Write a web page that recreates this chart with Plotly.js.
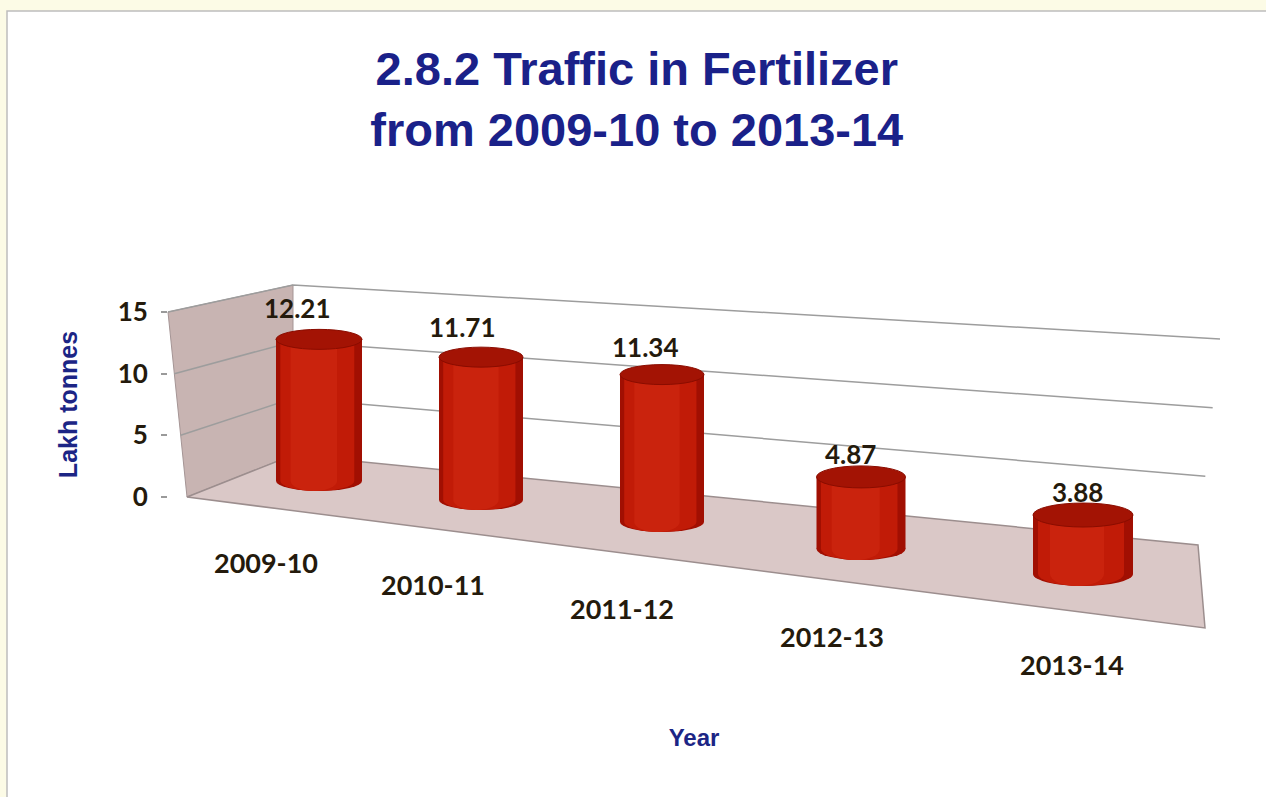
<!DOCTYPE html>
<html>
<head>
<meta charset="utf-8">
<script src="https://cdn.plot.ly/plotly-3.0.1.min.js"></script>
<style>html,body{margin:0;padding:0;background:#fcfbe6;}#chart{width:1266px;height:797px;}</style>
</head>
<body>
<div id="chart"></div>
<script>
// ---------- data ----------
const categories = ['2009-10', '2010-11', '2011-12', '2012-13', '2013-14'];
const values = [12.21, 11.71, 11.34, 4.87, 3.88];
const yTicks = [0, 5, 10, 15];
const yMax = 15;
const titleText = '2.8.2 Traffic in Fertilizer<br>from 2009-10 to 2013-14';
const yTitle = 'Lakh tonnes';
const xTitle = 'Year';

// ---------- layout positions (pixels, perspective look) ----------
const W = 1266, H = 797;
const barCx = [319, 481, 662, 861, 1083];
const barBaseY = [481, 500, 522, 549, 574];
const barPxPerUnit = [11.6, 12.2, 13.0, 14.8, 15.2];
const barW = [86, 84, 84, 89, 100];
const capHalfH = [10, 10, 10, 11, 12];
const labelDx = [-22, -19, -17, -11, -6];
const labelDy = [31, 30, 28, 23, 23];
const catShift = [-53, -48, -40, -29, -11];
const catStandoff = [46, 49, 51, 52, 55];
const padBelow = 18;

const X = p => p / W;
const Y = p => 1 - p / H;

// wall / floor corner projection for a value t
const frontLeft = t => [187 - t / yMax * 19, 497 - t / yMax * 185];
const backLeft = t => [293, 455 - t / yMax * 170];
const backRight = t => [1198 + t / yMax * 22, 545 - t / yMax * 206];
const floorFrontRight = [1205, 628];

const path = pts => 'M ' + pts.map(p => X(p[0]).toFixed(5) + ' ' + Y(p[1]).toFixed(5)).join(' L ') + ' Z';
const openPath = pts => 'M ' + pts.map(p => X(p[0]).toFixed(5) + ' ' + Y(p[1]).toFixed(5)).join(' L ');

const navy = '#1c2585';
const labelColor = '#241a0c';
const bands = [
  {w: 1.0, off: -0.5, color: '#a10f02'},
  {w: 0.86, off: -0.45, color: '#c11b07'},
  {w: 0.54, off: -0.33, color: '#ca230d'}
];

const traces = [{x: [0.5], y: [0], type: 'scatter', mode: 'markers', marker: {opacity: 0}, hoverinfo: 'skip', showlegend: false, xaxis: 'x', yaxis: 'y'}];
const layout = {
  width: W, height: H,
  margin: {l: 0, r: 0, t: 0, b: 0},
  paper_bgcolor: '#fcfbe6',
  plot_bgcolor: 'rgba(0,0,0,0)',
  showlegend: false,
  barmode: 'overlay',
  title: {
    text: titleText,
    font: {family: 'Liberation Sans, Arial, sans-serif', size: 47, color: '#1a2189', weight: 'bold'},
    x: 0.503, xanchor: 'center', xref: 'container',
    y: 1 - 85 / H, yanchor: 'middle', yref: 'container'
  },
  xaxis: {
    domain: [X(168), X(1220)], range: [0, 1], anchor: 'y',
    showticklabels: false, showgrid: false, zeroline: false, showline: false, ticks: '',
    title: {text: xTitle, standoff: 232, font: {family: 'Liberation Sans, Arial, sans-serif', size: 24, color: navy, weight: 'bold'}}
  },
  yaxis: {
    domain: [Y(497), Y(312)], range: [0, yMax], anchor: 'x',
    tickvals: yTicks, ticktext: yTicks.map(String),
    ticks: 'outside', ticklen: 6, tickcolor: '#9a9a9a', tickwidth: 1.5,
    ticklabelstandoff: 8,
    tickfont: {family: 'Lato, sans-serif', size: 26, color: labelColor, weight: 'bold'},
    showgrid: false, zeroline: false, showline: false,
    title: {text: yTitle, standoff: 32, font: {family: 'Liberation Sans, Arial, sans-serif', size: 25, color: navy, weight: 'bold'}}
  },
  shapes: [],
  annotations: []
};

// card background
layout.shapes.push({type: 'rect', xref: 'paper', yref: 'paper', x0: X(7), x1: 1.02, y0: -0.02, y1: Y(11),
  fillcolor: '#ffffff', line: {color: '#bdbdbd', width: 1.5}, layer: 'below'});
// left wall
layout.shapes.push({type: 'path', xref: 'paper', yref: 'paper', layer: 'below',
  path: path([frontLeft(0), frontLeft(yMax), backLeft(yMax), backLeft(0)]),
  fillcolor: '#c8b4b2', line: {color: '#a59595', width: 1}});
// floor
layout.shapes.push({type: 'path', xref: 'paper', yref: 'paper', layer: 'below',
  path: path([frontLeft(0), backLeft(0), backRight(0), floorFrontRight]),
  fillcolor: '#dac8c7', line: {color: '#9c8e8e', width: 1.5}});
// gridlines
yTicks.filter(t => t > 0).forEach(t => {
  layout.shapes.push({type: 'path', xref: 'paper', yref: 'paper', layer: 'below',
    path: openPath([frontLeft(t), backLeft(t), backRight(t)]),
    line: {color: '#9d9d9d', width: 1.5}});
});

// cylinders, one subplot per category
categories.forEach((cat, i) => {
  const k = i + 2;
  const xa = 'xaxis' + k, ya = 'yaxis' + k;
  const s = barPxPerUnit[i];
  const cx = barCx[i], w = barW[i], yb = barBaseY[i];
  layout[xa] = {
    domain: [X(cx - 0.6 * w), X(cx + 0.6 * w)], range: [-0.6, 0.6], anchor: 'y' + k,
    type: 'category', categoryorder: 'array', categoryarray: [cat],
    showgrid: false, zeroline: false, showline: false, ticks: '',
    ticklabelshift: catShift[i], ticklabelstandoff: catStandoff[i],
    tickfont: {family: 'Lato, sans-serif', size: 27, color: labelColor, weight: 'bold'}
  };
  layout[ya] = {
    domain: [Y(yb + padBelow), Y(yb - yMax * s)], range: [-padBelow / s, yMax], anchor: 'x' + k,
    visible: false, showgrid: false, zeroline: false
  };
  bands.forEach(b => {
    traces.push({type: 'bar', x: [cat], y: [values[i]], width: b.w, offset: b.off,
      marker: {color: b.color, line: {width: 0}}, xaxis: 'x' + k, yaxis: 'y' + k,
      hoverinfo: 'skip', showlegend: false});
    // rounded bottom of each shading band
    layout.shapes.push({type: 'circle', xref: 'x' + k, yref: 'y' + k, layer: 'below',
      x0: b.off, x1: b.off + b.w, ysizemode: 'pixel', yanchor: 0, y0: -capHalfH[i], y1: capHalfH[i],
      fillcolor: b.color, line: {width: 0}});
  });
  // top face
  layout.shapes.push({type: 'circle', xref: 'x' + k, yref: 'y' + k, layer: 'above',
    x0: -0.5, x1: 0.5, ysizemode: 'pixel', yanchor: values[i], y0: -capHalfH[i], y1: capHalfH[i],
    fillcolor: '#a31304', line: {color: '#8a0c00', width: 1}});
  // value label
  layout.annotations.push({xref: 'x' + k, yref: 'y' + k, x: cat, y: values[i],
    text: values[i].toFixed(2), showarrow: false, xanchor: 'center', yanchor: 'middle',
    xshift: labelDx[i], yshift: labelDy[i],
    font: {family: 'Lato, sans-serif', size: 26, color: labelColor, weight: 'bold'}});
});

Plotly.newPlot('chart', traces, layout, {displayModeBar: false, responsive: false});
</script>
</body>
</html>
